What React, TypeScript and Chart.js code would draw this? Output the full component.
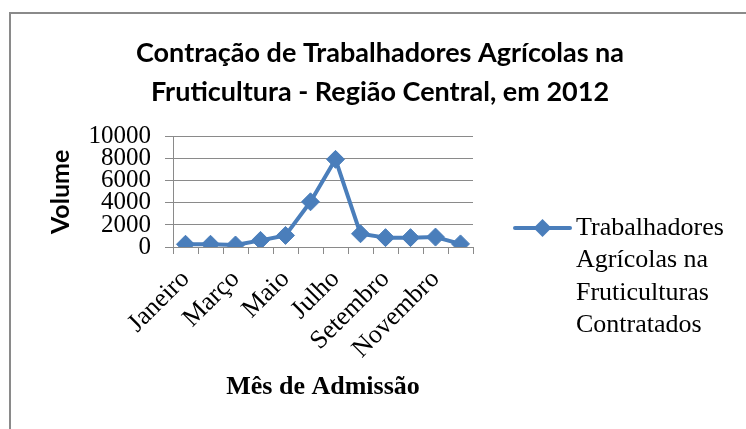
import React, { useEffect, useRef } from "react";
import { Chart, registerables, layouts } from "chart.js";

Chart.register(...registerables);

const months = [
  "Janeiro", "Fevereiro", "Março", "Abril", "Maio", "Junho",
  "Julho", "Agosto", "Setembro", "Outubro", "Novembro", "Dezembro",
];
const contratados = [250, 250, 180, 600, 1050, 4100, 7950, 1200, 850, 850, 900, 280];
const yTickValues = [0, 2000, 4000, 6000, 8000, 10000];
const titleLines = ["Contração de Trabalhadores Agrícolas na", "Fruticultura - Região Central, em 2012"];
const legendLines = ["Trabalhadores", "Agrícolas na", "Fruticulturas", "Contratados"];
const yTitle = "Volume";
const xTitle = "Mês de Admissão";

const BLUE = "#4A7EBB";
const GRID = "#8a8a8a";
const SERIF = "'Liberation Serif', 'Times New Roman', serif";
const SANS = "Lato, 'Open Sans', sans-serif";

const sideLegend = {
  id: "sideLegend",
  beforeInit(chart: any) {
    const box: any = {
      position: "right",
      weight: 100,
      fullSize: false,
      options: {},
      width: 0,
      height: 0,
      left: 0,
      top: 0,
      right: 0,
      bottom: 0,
      update(_maxW: number, maxH: number) {
        this.width = 273;
        this.height = maxH;
      },
      isHorizontal() {
        return false;
      },
      draw() {},
    };
    layouts.addBox(chart, box);
  },
  afterDraw(chart: any) {
    const { ctx, chartArea } = chart;
    const x0 = chartArea.right + 42;
    const y0 = 228;
    ctx.save();
    ctx.strokeStyle = BLUE;
    ctx.lineWidth = 4;
    ctx.lineCap = "round";
    ctx.beginPath();
    ctx.moveTo(x0, y0);
    ctx.lineTo(x0 + 55, y0);
    ctx.stroke();
    const cx = x0 + 27.5;
    const r = 9;
    ctx.fillStyle = BLUE;
    ctx.beginPath();
    ctx.moveTo(cx, y0 - r);
    ctx.lineTo(cx + r, y0);
    ctx.lineTo(cx, y0 + r);
    ctx.lineTo(cx - r, y0);
    ctx.closePath();
    ctx.fill();
    ctx.fillStyle = "#000";
    ctx.font = `26px ${SERIF}`;
    ctx.textBaseline = "middle";
    ctx.textAlign = "left";
    legendLines.forEach((line, i) => {
      ctx.fillText(line, x0 + 61, y0 + i * 32.5);
    });
    ctx.restore();
  },
};

export default function App() {
  const ref = useRef<HTMLCanvasElement | null>(null);

  useEffect(() => {
    if (!ref.current) return;
    const chart = new Chart(ref.current, {
      type: "line",
      data: {
        labels: months,
        datasets: [
          {
            label: legendLines.join(" "),
            data: contratados,
            borderColor: BLUE,
            backgroundColor: BLUE,
            borderWidth: 4,
            borderJoinStyle: "round",
            borderCapStyle: "round",
            pointStyle: "rectRot",
            pointRadius: 9,
            pointBorderWidth: 1,
            pointBackgroundColor: BLUE,
            pointBorderColor: BLUE,
            tension: 0,
          },
        ],
      },
      options: {
        responsive: false,
        animation: false,
        devicePixelRatio: 1,
        layout: { padding: { left: 14, right: 0, top: 0, bottom: 0 } },
        plugins: {
          legend: { display: false },
          tooltip: { enabled: false },
          title: {
            display: true,
            text: titleLines,
            color: "#000",
            font: { family: SANS, size: 27, weight: "bold", lineHeight: 1.44 },
            padding: { top: 34, bottom: 25 },
          },
        },
        scales: {
          x: {
            type: "category",
            offset: true,
            afterFit(scale: any) {
              scale.height = 182;
            },
            grid: {
              display: true,
              drawOnChartArea: false,
              drawTicks: true,
              tickLength: 7,
              color: GRID,
              offset: true,
            },
            border: { display: true, color: GRID, width: 1 },
            ticks: {
              autoSkip: false,
              maxRotation: 45,
              minRotation: 45,
              padding: 10,
              color: "#000",
              font: { family: SERIF, size: 26 },
              callback: (_v: any, i: number) => (i % 2 === 0 ? months[i] : ""),
            },
            title: {
              display: true,
              text: xTitle,
              color: "#000",
              font: { family: SERIF, size: 26, weight: "bold" },
              padding: { top: 0, bottom: 26 },
            },
          },
          y: {
            min: 0,
            max: 10000,
            afterFit(scale: any) {
              scale.width = 159;
            },
            afterBuildTicks(scale: any) {
              scale.ticks = yTickValues.map((v) => ({ value: v }));
            },
            grid: {
              color: GRID,
              lineWidth: 1,
              drawTicks: true,
              tickLength: 8,
            },
            border: { display: true, color: GRID, width: 1 },
            ticks: {
              autoSkip: false,
              padding: 14,
              color: "#000",
              font: { family: SERIF, size: 25 },
              callback: (v: any) => String(v),
            },
            title: {
              display: true,
              text: yTitle,
              color: "#000",
              font: { family: SANS, size: 25, weight: "bold" },
              padding: { top: 32, bottom: 0 },
            },
          },
        },
      },
      plugins: [sideLegend],
    } as any);
    return () => chart.destroy();
  }, []);

  return (
    <div>
      <canvas
        ref={ref}
        width={746}
        height={429}
        style={{ position: "absolute", left: 0, top: 0, width: 746, height: 429, display: "block" }}
      />
      <div
        style={{
          position: "absolute",
          left: 9,
          top: 12,
          width: 737,
          height: 417,
          boxSizing: "border-box",
          borderLeft: "2px solid #8a8a8a",
          borderTop: "2px solid #8a8a8a",
          pointerEvents: "none",
        }}
      />
    </div>
  );
}
